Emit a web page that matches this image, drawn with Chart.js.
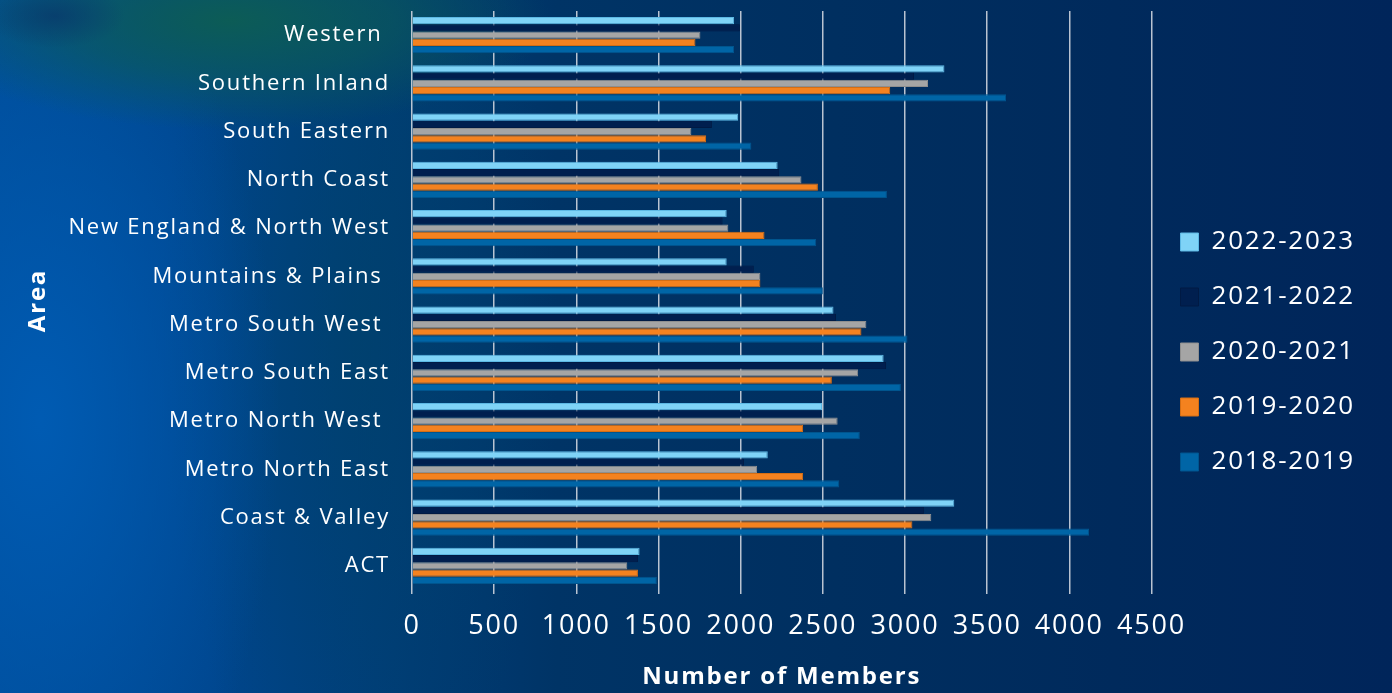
<!DOCTYPE html>
<html>
<head>
<meta charset="utf-8">
<script src="https://cdn.jsdelivr.net/npm/chart.js@4.4.1/dist/chart.umd.min.js"></script>
<style>
html, body { margin: 0; padding: 0; }
body {
  width: 1392px; height: 693px; overflow: hidden;
  background:
    radial-gradient(70px 32px at 55px 16px, rgba(8,58,108,0.8), rgba(8,58,108,0) 100%),
    radial-gradient(320px 110px at 230px 20px, rgba(12,92,86,1), rgba(12,92,86,0.6) 50%, rgba(12,92,86,0) 100%),
    radial-gradient(240px 480px at 40px 420px, rgba(0,92,180,0.95), rgba(0,92,180,0) 100%),
    radial-gradient(200px 520px at 360px 330px, rgba(0,66,100,0.55), rgba(0,66,100,0) 100%),
    linear-gradient(90deg, #004c98 0%, #00468e 15%, #003e7a 27%, #003466 40%, #002f60 60%, #002a5c 80%, #00255a 100%);
}
#wrap { position: relative; width: 1392px; height: 693px; }
</style>
</head>
<body>
<div id="wrap"><canvas id="c"></canvas></div>
<script>
const categories = ["Western ", "Southern Inland", "South Eastern", "North Coast", "New England & North West", "Mountains & Plains ", "Metro South West ", "Metro South East", "Metro North West ", "Metro North East", "Coast & Valley", "ACT"];
const seriesNames = ["2022-2023", "2021-2022", "2020-2021", "2019-2020", "2018-2019"];
const v2022_2023 = [1960, 3240, 1985, 2225, 1915, 1915, 2565, 2870, 2495, 2165, 3300, 1385];
const v2021_2022 = [1995, 3055, 1825, 2235, 1890, 2080, 2580, 2885, 2490, 2020, 3115, 1375];
const v2020_2021 = [1755, 3140, 1700, 2370, 1925, 2120, 2765, 2715, 2590, 2100, 3160, 1310];
const v2019_2020 = [1725, 2910, 1790, 2470, 2145, 2120, 2735, 2555, 2380, 2380, 3045, 1375];
const v2018_2019 = [1960, 3615, 2065, 2890, 2460, 2500, 3015, 2975, 2725, 2600, 4120, 1490];
const xTicks = [0, 500, 1000, 1500, 2000, 2500, 3000, 3500, 4000, 4500];

const fills = ["#7fd3f7", "#001f4f", "#a5a5a5", "#f4821f", "#0065a6"];
const borders = ["#5cb8e4", "#001a44", "#8f8f8f", "#d56e14", "#00558e"];
const seriesValues = [v2022_2023, v2021_2022, v2020_2021, v2019_2020, v2018_2019];

const spacingPlugin = {
  id: 'spacing',
  beforeLayout(chart) { chart.ctx.letterSpacing = '1.8px'; },
  beforeDraw(chart) { chart.ctx.letterSpacing = '1.8px'; }
};

const gridColor = 'rgba(205,212,222,0.9)';

new Chart(document.getElementById('c'), {
  type: 'bar',
  data: {
    labels: categories,
    datasets: seriesNames.map((n, i) => ({
      label: n,
      data: seriesValues[i],
      backgroundColor: fills[i],
      borderColor: borders[i],
      borderWidth: 1,
      categoryPercentage: 0.75,
      barPercentage: 1.0
    }))
  },
  options: {
    indexAxis: 'y',
    responsive: true,
    maintainAspectRatio: false,
    animation: false,
    layout: { padding: { top: 11, right: 27, bottom: 0, left: 0 } },
    plugins: {
      tooltip: { enabled: false },
      legend: {
        position: 'right',
        labels: {
          color: '#ffffff',
          font: { family: 'Open Sans', size: 26 },
          boxWidth: 18,
          boxHeight: 18,
          padding: 29
        }
      }
    },
    scales: {
      x: {
        min: 0, max: 4500,
        afterBuildTicks(scale) { scale.ticks = xTicks.map(v => ({ value: v })); },
        afterFit(scale) { scale.height = 103; scale.paddingLeft = 0; scale.paddingRight = 0; },
        grid: { color: gridColor, lineWidth: 1.5, tickLength: 4, drawTicks: true },
        border: { display: false },
        ticks: {
          color: '#ffffff',
          font: { family: "'Liberation Sans Narrow', 'Open Sans'", size: 27 },
          padding: 16,
          maxRotation: 0,
          autoSkip: false,
          callback: (v) => String(v)
        },
        title: {
          display: true,
          text: 'Number of Members',
          color: '#ffffff',
          font: { family: 'Open Sans', size: 24, weight: 'bold' },
          padding: { top: 0, bottom: 1 }
        }
      },
      y: {
        afterFit(scale) { scale.width = 412; scale.paddingTop = 0; scale.paddingBottom = 0; },
        grid: { display: false, drawTicks: false },
        border: { display: false },
        ticks: {
          color: '#ffffff',
          font: { family: 'Open Sans', size: 22 },
          padding: 22,
          autoSkip: false
        },
        title: {
          display: true,
          text: 'Area',
          color: '#ffffff',
          font: { family: 'Open Sans', size: 24, weight: 'bold' },
          padding: { top: 24, bottom: 0 }
        }
      }
    }
  },
  plugins: [spacingPlugin]
});
</script>
</body>
</html>
